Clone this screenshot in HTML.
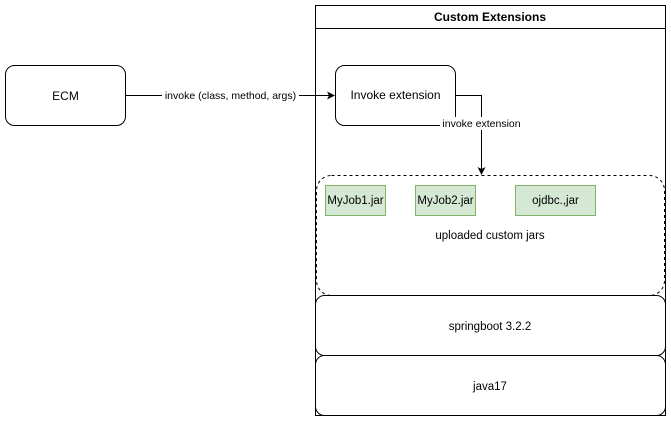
<!DOCTYPE html>
<html><head><meta charset="utf-8"><style>html,body{margin:0;padding:0;background:#fff}</style></head>
<body>
<svg width="671" height="421" viewBox="0 0 671 421" xmlns="http://www.w3.org/2000/svg" font-family="'Liberation Sans', Arial, sans-serif" font-size="12" style="display:block">
<rect x="0" y="0" width="671" height="421" fill="#fff"/>
<!-- container -->
<rect x="315.5" y="5.5" width="350" height="410" fill="#fff" stroke="#000"/>
<line x1="315.5" y1="28.5" x2="665.5" y2="28.5" stroke="#000"/>
<text x="490" y="21" text-anchor="middle" font-weight="bold" font-size="12">Custom Extensions</text>
<!-- ECM -->
<rect x="5.5" y="65.5" width="120" height="60" rx="9" fill="#fff" stroke="#000"/>
<text x="65.5" y="100" text-anchor="middle">ECM</text>
<!-- arrow ECM -> invoke -->
<line x1="125.5" y1="95.5" x2="329" y2="95.5" stroke="#000"/>
<polygon points="335,95.5 327,91.5 329,95.5 327,99.5" fill="#000"/>
<rect x="162" y="88" width="137" height="14" fill="#fff"/>
<text x="230.5" y="99" text-anchor="middle" font-size="10.5">invoke (class, method, args)</text>
<!-- invoke extension -->
<rect x="335.5" y="65.5" width="120" height="60" rx="9" fill="#fff" stroke="#000"/>
<text x="395.5" y="99" text-anchor="middle">Invoke extension</text>
<!-- dashed group -->
<rect x="316.5" y="175.5" width="348" height="120" rx="15" fill="#fff" stroke="#000" stroke-dasharray="3,3"/>
<!-- edge invoke -> jars -->
<polyline points="455.5,95.5 481.5,95.5 481.5,169" fill="none" stroke="#000"/>
<polygon points="481.5,175 477.5,167 481.5,169 485.5,167" fill="#000"/>
<rect x="440" y="117" width="83" height="13" fill="#fff"/>
<text x="481.5" y="127" text-anchor="middle" font-size="10.5">invoke extension</text>
<!-- jars -->
<rect x="325.5" y="185.5" width="60" height="30" fill="#d5e8d4" stroke="#82b366"/>
<text x="355.5" y="204" text-anchor="middle" font-size="11.5">MyJob1.jar</text>
<rect x="415.5" y="185.5" width="60" height="30" fill="#d5e8d4" stroke="#82b366"/>
<text x="445.5" y="204" text-anchor="middle" font-size="11.5">MyJob2.jar</text>
<rect x="515.5" y="185.5" width="80" height="30" fill="#d5e8d4" stroke="#82b366"/>
<text x="555.5" y="204" text-anchor="middle" font-size="11.5">ojdbc.,jar</text>
<text x="490" y="239" text-anchor="middle" font-size="11.5">uploaded custom jars</text>
<!-- springboot -->
<rect x="315.5" y="295.5" width="350" height="60" rx="9" fill="#fff" stroke="#000"/>
<text x="490" y="330" text-anchor="middle" font-size="11.5">springboot 3.2.2</text>
<!-- java17 -->
<rect x="315.5" y="355.5" width="350" height="60" rx="9" fill="#fff" stroke="#000"/>
<text x="490" y="390" text-anchor="middle" font-size="11.5">java17</text>
</svg>
</body></html>
